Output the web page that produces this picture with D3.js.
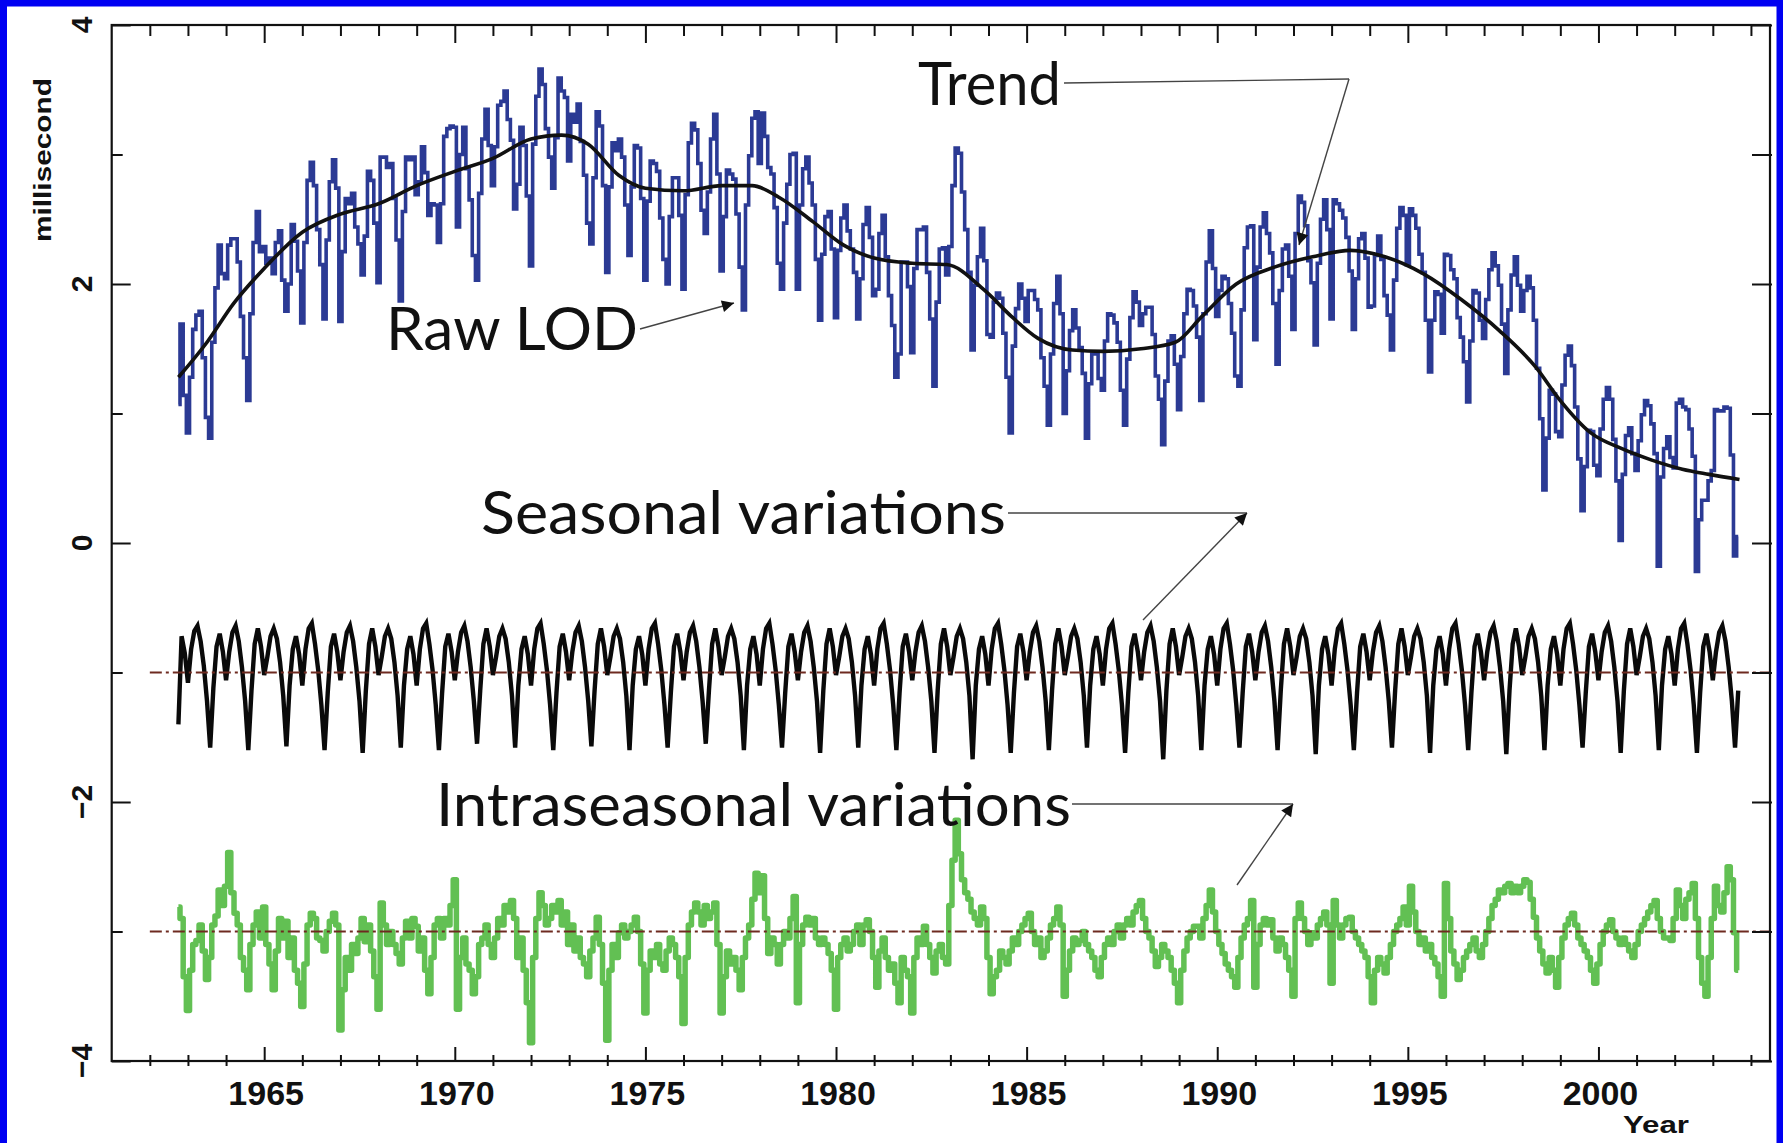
<!DOCTYPE html>
<html>
<head>
<meta charset="utf-8">
<script src="https://cdn.jsdelivr.net/npm/d3@7"></script>
<style>
html,body{margin:0;padding:0;background:#fff;}
svg{display:block;}
</style>
</head>
<body>
<svg id="chart" width="1783" height="1143"></svg>
<script>
// ---------------- DATA (milliseconds), monthly samples starting Oct 1962 ----------------
const startYear = 1962.75;
const stepYears = 1 / 12;

// Raw LOD (blue)
const rawLOD = [
  1.07, 1.69, 1.14, 0.85, 1.28, 1.65, 1.76, 1.79, 1.43, 0.97, 0.81, 1.55,
  1.97, 2.30, 2.08, 2.04, 2.30, 2.35, 2.35, 2.17, 1.75, 1.43, 1.10, 1.77,
  2.32, 2.56, 2.25, 2.29, 2.16, 2.20, 2.08, 2.32, 2.41, 2.03, 1.79, 2.00,
  2.46, 2.33, 2.10, 1.70, 2.32, 2.80, 2.94, 2.76, 2.42, 2.15, 1.73, 2.34,
  2.79, 2.96, 2.74, 1.71, 2.25, 2.66, 2.62, 2.70, 2.44, 2.31, 2.07, 2.37,
  2.87, 2.80, 2.47, 2.01, 2.98, 2.98, 2.90, 2.93, 2.66, 2.34, 1.87, 2.56,
  2.98, 2.96, 2.98, 2.69, 2.79, 3.06, 2.86, 2.53, 2.62, 2.61, 2.32, 2.62,
  3.14, 3.20, 3.22, 3.21, 2.44, 3.00, 3.21, 2.89, 2.65, 2.22, 2.03, 2.70,
  3.12, 3.35, 3.07, 2.76, 3.06, 3.38, 3.41, 3.49, 3.27, 3.11, 2.58, 2.77,
  3.21, 3.07, 2.68, 2.14, 3.08, 3.45, 3.66, 3.54, 3.20, 2.98, 2.74, 3.13,
  3.59, 3.49, 3.44, 2.95, 3.31, 3.25, 3.39, 3.10, 2.84, 2.47, 2.31, 2.82,
  3.33, 3.22, 2.76, 2.09, 2.75, 3.09, 3.03, 3.12, 2.98, 2.61, 2.22, 2.75,
  3.07, 3.05, 2.66, 2.03, 2.64, 2.95, 2.93, 2.87, 2.51, 2.19, 2.00, 2.52,
  2.82, 2.82, 2.53, 1.96, 2.69, 3.09, 3.24, 3.19, 2.93, 2.57, 2.39, 2.71,
  3.12, 3.31, 2.85, 2.10, 2.52, 2.88, 2.85, 2.81, 2.54, 2.13, 1.80, 2.61,
  2.99, 3.28, 3.33, 2.93, 3.32, 3.14, 2.90, 2.85, 2.59, 2.16, 1.96, 2.47,
  2.77, 3.00, 3.01, 1.96, 2.61, 2.89, 2.98, 2.78, 2.61, 2.19, 1.72, 2.23,
  2.52, 2.56, 2.27, 1.74, 2.26, 2.51, 2.61, 2.41, 2.27, 2.09, 1.73, 2.04,
  2.46, 2.59, 2.36, 1.91, 1.96, 2.39, 2.53, 2.21, 1.91, 1.68, 1.28, 1.46,
  2.17, 2.17, 1.98, 1.47, 2.12, 2.42, 2.42, 2.44, 2.09, 1.73, 1.21, 1.86,
  2.27, 2.28, 2.07, 2.29, 2.76, 3.05, 3.01, 2.71, 2.42, 2.09, 1.49, 1.99,
  2.21, 2.43, 2.18, 1.61, 1.59, 1.86, 1.93, 1.89, 1.62, 1.28, 0.85, 1.52,
  1.81, 2.00, 1.89, 1.71, 1.95, 1.95, 1.88, 1.80, 1.43, 1.21, 0.91, 1.46,
  1.85, 2.06, 1.77, 1.00, 1.33, 1.64, 1.80, 1.66, 1.51, 1.31, 0.81, 1.23,
  1.46, 1.46, 1.27, 1.18, 1.56, 1.77, 1.76, 1.70, 1.55, 1.18, 0.91, 1.42,
  1.74, 1.94, 1.86, 1.68, 1.77, 1.82, 1.82, 1.61, 1.29, 1.11, 0.76, 1.25,
  1.56, 1.60, 1.38, 1.03, 1.44, 1.77, 1.96, 1.95, 1.83, 1.59, 1.10, 1.77,
  2.17, 2.41, 2.12, 1.75, 1.95, 2.06, 2.04, 1.85, 1.62, 1.29, 1.21, 1.80,
  2.28, 2.44, 2.45, 1.57, 2.13, 2.44, 2.55, 2.39, 2.24, 1.85, 1.38, 1.95,
  2.27, 2.30, 2.06, 1.65, 2.39, 2.68, 2.63, 2.45, 2.18, 2.01, 1.53, 2.16,
  2.50, 2.65, 2.42, 1.73, 2.65, 2.62, 2.57, 2.51, 2.36, 2.10, 1.65, 2.04,
  2.35, 2.39, 2.20, 1.82, 1.83, 2.22, 2.37, 2.19, 1.91, 1.76, 1.49, 2.03,
  2.43, 2.59, 2.53, 2.15, 2.58, 2.53, 2.43, 2.23, 2.09, 1.72, 1.32, 1.72,
  1.94, 1.92, 1.62, 2.23, 2.22, 2.11, 2.04, 1.74, 1.59, 1.40, 1.09, 1.56,
  1.95, 1.93, 1.72, 1.58, 1.88, 2.11, 2.24, 2.14, 1.99, 1.69, 1.31, 1.80,
  2.07, 2.21, 1.99, 1.79, 1.95, 2.06, 1.97, 1.72, 1.35, 0.96, 0.41, 0.81,
  1.18, 1.15, 0.86, 0.82, 1.22, 1.45, 1.52, 1.37, 1.05, 0.65, 0.25, 0.59,
  0.87, 0.86, 0.60, 0.52, 0.88, 1.11, 1.20, 1.11, 0.80, 0.48, 0.02, 0.53,
  0.83, 0.89, 0.69, 0.56, 0.79, 0.99, 1.10, 1.06, 0.92, 0.69, -0.18, 0.51,
  0.73, 0.82, 0.66, 0.58, 1.08, 1.11, 1.05, 1.03, 0.88, 0.67, -0.22, 0.18,
  0.33, 0.33, 0.48, 0.56, 1.03, 1.02, 1.02, 1.05, 1.04, 0.68, -0.10, 0.05
];

// Seasonal variations (black), plotted around -1
const seasonal = [
  -1.40, -0.72, -0.85, -1.08, -0.82, -0.68, -0.64, -0.76, -0.95, -1.22, -1.58, -1.12,
  -0.80, -0.70, -0.84, -1.06, -0.84, -0.69, -0.64, -0.76, -0.96, -1.22, -1.60, -1.14,
  -0.78, -0.66, -0.80, -1.02, -0.88, -0.72, -0.66, -0.74, -0.92, -1.18, -1.57, -1.10,
  -0.82, -0.72, -0.86, -1.10, -0.82, -0.66, -0.62, -0.78, -0.98, -1.25, -1.60, -1.16,
  -0.80, -0.70, -0.84, -1.06, -0.84, -0.69, -0.64, -0.76, -0.96, -1.22, -1.62, -1.14,
  -0.78, -0.66, -0.80, -1.02, -0.88, -0.72, -0.66, -0.74, -0.92, -1.18, -1.58, -1.10,
  -0.82, -0.72, -0.86, -1.10, -0.82, -0.66, -0.62, -0.78, -0.98, -1.25, -1.60, -1.16,
  -0.80, -0.70, -0.84, -1.06, -0.84, -0.69, -0.64, -0.76, -0.96, -1.22, -1.55, -1.14,
  -0.78, -0.66, -0.80, -1.02, -0.88, -0.72, -0.66, -0.74, -0.92, -1.18, -1.58, -1.10,
  -0.82, -0.72, -0.86, -1.10, -0.82, -0.66, -0.62, -0.78, -0.98, -1.25, -1.60, -1.16,
  -0.80, -0.70, -0.84, -1.06, -0.84, -0.69, -0.64, -0.76, -0.96, -1.22, -1.57, -1.14,
  -0.78, -0.66, -0.80, -1.02, -0.88, -0.72, -0.66, -0.74, -0.92, -1.18, -1.60, -1.10,
  -0.82, -0.72, -0.86, -1.10, -0.82, -0.66, -0.62, -0.78, -0.98, -1.25, -1.58, -1.16,
  -0.80, -0.70, -0.84, -1.06, -0.84, -0.69, -0.64, -0.76, -0.96, -1.22, -1.55, -1.14,
  -0.78, -0.66, -0.80, -1.02, -0.88, -0.72, -0.66, -0.74, -0.92, -1.18, -1.60, -1.10,
  -0.82, -0.72, -0.86, -1.10, -0.82, -0.66, -0.62, -0.78, -0.98, -1.25, -1.58, -1.16,
  -0.80, -0.70, -0.84, -1.06, -0.84, -0.69, -0.64, -0.76, -0.96, -1.22, -1.62, -1.14,
  -0.78, -0.66, -0.80, -1.02, -0.88, -0.72, -0.66, -0.74, -0.92, -1.18, -1.58, -1.10,
  -0.82, -0.72, -0.86, -1.10, -0.82, -0.66, -0.62, -0.78, -0.98, -1.25, -1.60, -1.16,
  -0.80, -0.70, -0.84, -1.06, -0.84, -0.69, -0.64, -0.76, -0.96, -1.22, -1.62, -1.14,
  -0.78, -0.66, -0.80, -1.02, -0.88, -0.72, -0.66, -0.74, -0.92, -1.18, -1.67, -1.10,
  -0.82, -0.72, -0.86, -1.10, -0.82, -0.66, -0.62, -0.78, -0.98, -1.25, -1.62, -1.16,
  -0.80, -0.70, -0.84, -1.06, -0.84, -0.69, -0.64, -0.76, -0.96, -1.22, -1.60, -1.14,
  -0.78, -0.66, -0.80, -1.02, -0.88, -0.72, -0.66, -0.74, -0.92, -1.18, -1.58, -1.10,
  -0.82, -0.72, -0.86, -1.10, -0.82, -0.66, -0.62, -0.78, -0.98, -1.25, -1.62, -1.16,
  -0.80, -0.70, -0.84, -1.06, -0.84, -0.69, -0.64, -0.76, -0.96, -1.22, -1.67, -1.14,
  -0.78, -0.66, -0.80, -1.02, -0.88, -0.72, -0.66, -0.74, -0.92, -1.18, -1.60, -1.10,
  -0.82, -0.72, -0.86, -1.10, -0.82, -0.66, -0.62, -0.78, -0.98, -1.25, -1.58, -1.16,
  -0.80, -0.70, -0.84, -1.06, -0.84, -0.69, -0.64, -0.76, -0.96, -1.22, -1.60, -1.14,
  -0.78, -0.66, -0.80, -1.02, -0.88, -0.72, -0.66, -0.74, -0.92, -1.18, -1.63, -1.10,
  -0.82, -0.72, -0.86, -1.10, -0.82, -0.66, -0.62, -0.78, -0.98, -1.25, -1.60, -1.16,
  -0.80, -0.70, -0.84, -1.06, -0.84, -0.69, -0.64, -0.76, -0.96, -1.22, -1.58, -1.14,
  -0.78, -0.66, -0.80, -1.02, -0.88, -0.72, -0.66, -0.74, -0.92, -1.18, -1.62, -1.10,
  -0.82, -0.72, -0.86, -1.10, -0.82, -0.66, -0.62, -0.78, -0.98, -1.25, -1.60, -1.16,
  -0.80, -0.70, -0.84, -1.06, -0.84, -0.69, -0.64, -0.76, -0.96, -1.22, -1.63, -1.14,
  -0.78, -0.66, -0.80, -1.02, -0.88, -0.72, -0.66, -0.74, -0.92, -1.18, -1.60, -1.10,
  -0.82, -0.72, -0.86, -1.10, -0.82, -0.66, -0.62, -0.78, -0.98, -1.25, -1.58, -1.16,
  -0.80, -0.70, -0.84, -1.06, -0.84, -0.69, -0.64, -0.76, -0.96, -1.22, -1.62, -1.14,
  -0.78, -0.66, -0.80, -1.02, -0.88, -0.72, -0.66, -0.74, -0.92, -1.18, -1.60, -1.10,
  -0.82, -0.72, -0.86, -1.10, -0.82, -0.66, -0.62, -0.78, -0.98, -1.25, -1.62, -1.16,
  -0.80, -0.70, -0.84, -1.06, -0.84, -0.69, -0.64, -0.76, -0.96, -1.22, -1.58, -1.14
];

// Intraseasonal variations (green), plotted around -3
const intraseasonal = [
  -2.81, -2.90, -3.35, -3.61, -3.30, -3.10, -3.07, -2.95, -3.15, -3.37, -3.20, -2.95,
  -2.88, -2.68, -2.80, -2.65, -2.39, -2.70, -2.86, -2.95, -3.20, -3.30, -3.45, -3.10,
  -2.95, -2.85, -3.05, -2.81, -3.10, -3.25, -3.45, -3.15, -2.90, -3.05, -2.92, -3.20,
  -3.05, -3.30, -3.40, -3.58, -3.25, -2.95, -2.86, -2.90, -3.05, -3.07, -3.15, -3.00,
  -2.92, -2.86, -2.95, -3.76, -3.45, -3.20, -3.30, -3.10, -3.17, -3.05, -2.90, -3.08,
  -2.95, -3.15, -3.35, -3.60, -2.78, -2.95, -3.10, -3.00, -3.10, -3.17, -3.25, -3.05,
  -2.92, -3.05, -2.90, -2.96, -3.15, -3.05, -3.30, -3.48, -3.20, -2.95, -2.90, -3.05,
  -2.90, -2.95, -2.80, -2.60, -3.60, -3.20, -3.05, -3.25, -3.30, -3.48, -3.35, -3.10,
  -3.05, -2.95, -3.10, -3.20, -3.05, -2.90, -2.95, -2.80, -2.85, -2.76, -2.90, -3.20,
  -3.05, -3.30, -3.55, -3.86, -3.20, -2.90, -2.70, -2.80, -2.95, -2.90, -2.80, -2.85,
  -2.76, -2.95, -2.85, -3.10, -2.95, -3.15, -3.05, -3.20, -3.25, -3.35, -3.15, -3.05,
  -2.89, -3.10, -3.40, -3.84, -3.30, -3.10, -3.20, -3.01, -2.95, -3.05, -3.00, -2.95,
  -2.89, -3.00, -3.25, -3.63, -3.30, -3.15, -3.20, -3.10, -3.25, -3.30, -3.15, -3.05,
  -3.10, -3.20, -3.35, -3.71, -3.20, -2.95, -2.85, -2.78, -2.85, -2.95, -2.80, -2.90,
  -2.85, -2.78, -3.10, -3.63, -3.35, -3.15, -3.25, -3.20, -3.30, -3.45, -3.20, -3.05,
  -2.95, -2.75, -2.55, -2.70, -2.57, -2.90, -3.17, -3.05, -3.10, -3.25, -3.10, -3.00,
  -3.05, -2.90, -2.73, -3.55, -3.10, -2.95, -2.89, -2.95, -2.90, -3.05, -3.10, -3.05,
  -3.10, -3.17, -3.30, -3.60, -3.20, -3.10, -3.05, -3.15, -3.10, -3.00, -2.95, -3.10,
  -2.95, -2.91, -3.00, -3.20, -3.43, -3.15, -3.05, -3.20, -3.30, -3.25, -3.40, -3.55,
  -3.20, -3.30, -3.35, -3.63, -3.20, -3.05, -3.10, -2.96, -3.10, -3.20, -3.32, -3.15,
  -3.10, -3.20, -3.25, -2.80, -2.45, -2.14, -2.40, -2.60, -2.70, -2.75, -2.85, -2.90,
  -2.95, -2.81, -2.90, -3.20, -3.48, -3.35, -3.30, -3.15, -3.20, -3.25, -3.15, -3.05,
  -3.10, -3.00, -2.95, -2.90, -2.86, -3.00, -3.10, -3.05, -3.20, -3.15, -3.05, -2.95,
  -2.90, -2.81, -2.95, -3.50, -3.30, -3.15, -3.05, -3.10, -3.07, -3.00, -3.10, -3.15,
  -3.20, -3.30, -3.35, -3.20, -3.10, -3.05, -3.10, -3.00, -2.95, -3.05, -2.95, -2.90,
  -2.95, -2.85, -2.80, -2.76, -2.90, -3.00, -3.05, -3.15, -3.27, -3.20, -3.10, -3.15,
  -3.20, -3.30, -3.40, -3.55, -3.30, -3.15, -3.05, -3.00, -2.96, -2.96, -3.05, -2.90,
  -2.80, -2.68, -2.85, -3.00, -3.10, -3.17, -3.25, -3.30, -3.35, -3.43, -3.20, -3.05,
  -2.95, -2.90, -2.76, -3.43, -3.10, -2.95, -2.90, -2.95, -2.91, -3.05, -3.15, -3.05,
  -3.10, -3.20, -3.30, -3.50, -2.90, -2.78, -2.90, -3.00, -3.10, -3.01, -3.05, -2.95,
  -2.90, -2.85, -2.95, -3.40, -2.76, -2.95, -3.05, -2.95, -2.90, -2.89, -3.00, -3.05,
  -3.10, -3.15, -3.20, -3.35, -3.55, -3.30, -3.20, -3.25, -3.32, -3.20, -3.10, -3.00,
  -2.95, -2.90, -2.81, -2.95, -2.65, -2.85, -3.00, -3.10, -3.05, -3.15, -3.10, -3.20,
  -3.25, -3.35, -3.50, -2.63, -2.90, -3.15, -3.25, -3.37, -3.30, -3.20, -3.15, -3.10,
  -3.05, -3.15, -3.20, -3.10, -3.00, -2.90, -2.80, -2.75, -2.68, -2.70, -2.65, -2.63,
  -2.70, -2.65, -2.70, -2.65, -2.60, -2.62, -2.75, -2.89, -3.05, -3.15, -3.25, -3.32,
  -3.20, -3.30, -3.43, -3.20, -3.05, -2.95, -2.90, -2.86, -2.95, -3.05, -3.10, -3.15,
  -3.20, -3.30, -3.40, -3.25, -3.10, -3.00, -2.95, -2.91, -3.00, -3.05, -3.10, -3.05,
  -3.10, -3.15, -3.20, -3.10, -3.00, -2.95, -2.90, -2.85, -2.80, -2.76, -2.90, -3.00,
  -3.05, -3.05, -3.07, -2.90, -2.68, -2.80, -2.90, -2.75, -2.70, -2.63, -2.90, -3.20,
  -3.40, -3.50, -3.20, -2.90, -2.65, -2.80, -2.85, -2.70, -2.50, -2.60, -3.01, -3.30
];

// Smooth trend (black curve over raw LOD)
const trendYears = [1962.75, 1963.5, 1964.2, 1965.0, 1966.0, 1967.0, 1968.0, 1969.0, 1970.0, 1971.0,
  1972.0, 1972.8, 1973.5, 1974.3, 1975.0, 1976.0, 1977.0, 1977.8, 1978.5, 1979.4, 1980.2, 1981.0,
  1982.0, 1982.9, 1983.9, 1984.6, 1985.3, 1986.2, 1987.0, 1988.0, 1988.9, 1989.6, 1990.5, 1991.5,
  1992.5, 1993.5, 1994.4, 1995.4, 1996.4, 1997.4, 1998.35, 1999.0, 1999.8, 2000.6, 2001.4, 2002.2,
  2002.9, 2003.7];
const trendValues = [1.28, 1.55, 1.85, 2.12, 2.40, 2.54, 2.62, 2.76, 2.87, 2.97,
  3.12, 3.15, 3.08, 2.84, 2.74, 2.72, 2.76, 2.76, 2.67, 2.48, 2.30, 2.20,
  2.16, 2.15, 1.95, 1.75, 1.58, 1.49, 1.48, 1.50, 1.55, 1.75, 2.00, 2.13,
  2.21, 2.26, 2.21, 2.08, 1.88, 1.64, 1.36, 1.10, 0.85, 0.73, 0.64, 0.57,
  0.53, 0.49];

// Reference (zero) levels of the two lower series
const baselineLevels = [-1, -3];

// Axis ticks and labels
const xMajorTicks = [1965, 1970, 1975, 1980, 1985, 1990, 1995, 2000];
const xMinorTicks = [1962, 1963, 1964, 1966, 1967, 1968, 1969, 1971, 1972, 1973, 1974, 1976, 1977,
  1978, 1979, 1981, 1982, 1983, 1984, 1986, 1987, 1988, 1989, 1991, 1992, 1993, 1994, 1996, 1997,
  1998, 1999, 2001, 2002, 2003, 2004];
const yMajorTicks = [4, 2, 0, -2, -4];
const yMinorTicks = [3, 1, -1, -3];
const yAxisTitle = "millisecond";
const xAxisTitle = "Year";

// Annotations
const annotations = {
  trend: "Trend",
  raw: "Raw LOD",
  seasonal: "Seasonal variations",
  intra: "Intraseasonal variations"
};

// ---------------- DRAWING ----------------
const W = 1783, H = 1143;
const svg = d3.select("#chart");
const x = d3.scaleLinear().domain([1961, 2004.5]).range([111.7, 1770]);
const y = d3.scaleLinear().domain([-4, 4]).range([1061, 25]);

svg.append("rect").attr("x", 0).attr("y", 0).attr("width", W).attr("height", H).attr("fill", "#fff");

const tOf = i => startYear + i * stepYears;
const seriesLine = d3.line().x((d, i) => x(tOf(i))).y(d => y(d));
const stepLine = d3.line().x((d, i) => x(tOf(i))).y(d => y(d)).curve(d3.curveStep);

// Raw LOD
svg.append("path").datum(rawLOD).attr("d", stepLine)
  .attr("fill", "none").attr("stroke", "#2b3a94").attr("stroke-width", 3.6)
  .attr("stroke-linejoin", "miter");

// Trend
const trendData = trendYears.map((t, i) => [t, trendValues[i]]);
svg.append("path").datum(trendData)
  .attr("d", d3.line().x(d => x(d[0])).y(d => y(d[1])).curve(d3.curveMonotoneX))
  .attr("fill", "none").attr("stroke", "#111").attr("stroke-width", 3.6);

// Seasonal
svg.append("path").datum(seasonal).attr("d", seriesLine)
  .attr("fill", "none").attr("stroke", "#0a0a0a").attr("stroke-width", 4.4);

// Intraseasonal
svg.append("path").datum(intraseasonal).attr("d", stepLine)
  .attr("fill", "none").attr("stroke", "#62c053").attr("stroke-width", 5.5)
  .attr("stroke-linejoin", "round");

// Baselines (dash-dot)
svg.selectAll("line.base").data(baselineLevels).enter().append("line")
  .attr("class", "base")
  .attr("x1", x(1962)).attr("x2", x(2004.5))
  .attr("y1", d => y(d)).attr("y2", d => y(d))
  .attr("stroke", "#6e2a20").attr("stroke-width", 1.8)
  .attr("stroke-dasharray", "12,4,3,4");

// ---------- Axes (frame with inward ticks on all sides) ----------
const axisStyle = g => {
  g.select(".domain").remove();
  g.selectAll(".tick line").attr("stroke", "#111").attr("stroke-width", 2);
  g.selectAll(".tick text").remove();
};
const y0 = y(-4), y1 = y(4), xL = x(1961), xR = x(2004.5);

// bottom
svg.append("g").attr("transform", `translate(0,${y0 + 5})`)
  .call(d3.axisTop(x).tickValues(xMinorTicks).tickSize(11)).call(axisStyle);
svg.append("g").attr("transform", `translate(0,${y0})`)
  .call(d3.axisTop(x).tickValues(xMajorTicks).tickSize(14)).call(axisStyle);
// top
svg.append("g").attr("transform", `translate(0,${y1})`)
  .call(d3.axisBottom(x).tickValues(xMinorTicks).tickSize(11)).call(axisStyle);
svg.append("g").attr("transform", `translate(0,${y1})`)
  .call(d3.axisBottom(x).tickValues(xMajorTicks).tickSize(18)).call(axisStyle);
// left
svg.append("g").attr("transform", `translate(${xL},0)`)
  .call(d3.axisRight(y).tickValues(yMinorTicks).tickSize(11)).call(axisStyle);
svg.append("g").attr("transform", `translate(${xL},0)`)
  .call(d3.axisRight(y).tickValues(yMajorTicks).tickSize(19)).call(axisStyle);
// right
svg.append("g").attr("transform", `translate(${xR + 2},0)`)
  .call(d3.axisLeft(y).tickValues(yMinorTicks).tickSize(20)).call(axisStyle);
svg.append("g").attr("transform", `translate(${xR + 2},0)`)
  .call(d3.axisLeft(y).tickValues(yMajorTicks).tickSize(20)).call(axisStyle);

// frame
svg.append("rect").attr("x", xL).attr("y", y1).attr("width", xR - xL).attr("height", y0 - y1)
  .attr("fill", "none").attr("stroke", "#111").attr("stroke-width", 2.2);

// X labels
svg.selectAll("text.xl").data(xMajorTicks).enter().append("text")
  .attr("class", "xl").attr("x", d => x(d) + 2).attr("y", y0 + 44)
  .attr("text-anchor", "middle")
  .attr("font-family", "Liberation Sans, Arial, sans-serif").attr("font-weight", "bold")
  .attr("font-size", 34).attr("fill", "#111").text(d => d);

// Y labels (rotated)
svg.selectAll("text.yl").data(yMajorTicks).enter().append("text")
  .attr("class", "yl")
  .attr("transform", d => `translate(92,${y(d)}) rotate(-90)`)
  .attr("text-anchor", "middle")
  .attr("font-family", "Liberation Sans, Arial, sans-serif").attr("font-weight", "bold")
  .attr("font-size", 30).attr("fill", "#111")
  .text(d => d < 0 ? "\u2212" + Math.abs(d) : String(d));

// Axis titles
svg.append("text").attr("transform", "translate(51,160) rotate(-90)")
  .attr("text-anchor", "middle")
  .attr("font-family", "Liberation Sans, Arial, sans-serif").attr("font-weight", "bold")
  .attr("font-size", 24).attr("fill", "#111")
  .attr("textLength", 164).attr("lengthAdjust", "spacingAndGlyphs")
  .text(yAxisTitle);
svg.append("text").attr("x", 1623).attr("y", 1133)
  .attr("font-family", "Liberation Sans, Arial, sans-serif").attr("font-weight", "bold")
  .attr("font-size", 24).attr("fill", "#111")
  .attr("textLength", 66).attr("lengthAdjust", "spacingAndGlyphs")
  .text(xAxisTitle);

// ---------- Annotations ----------
const defs = svg.append("defs");
defs.append("marker").attr("id", "arr").attr("viewBox", "0 0 10 10")
  .attr("refX", 10).attr("refY", 5).attr("markerWidth", 16).attr("markerHeight", 12)
  .attr("markerUnits", "userSpaceOnUse").attr("orient", "auto")
  .append("path").attr("d", "M0,0 L10,5 L0,10 Z").attr("fill", "#111");

const annFont = "Lato, 'Open Sans', sans-serif";
function label(txt, xx, yy, len) {
  svg.append("text").attr("x", xx).attr("y", yy)
    .attr("font-family", annFont).attr("font-size", 60).attr("fill", "#111")
    .attr("textLength", len).attr("lengthAdjust", "spacingAndGlyphs").text(txt);
}
label(annotations.trend, 918, 105, 143);
label(annotations.raw, 386, 350, 252);
label(annotations.seasonal, 481, 534, 525);
label(annotations.intra, 436, 826, 635);

const conn = (pts, arrow) => {
  const p = svg.append("path").attr("d", d3.line()(pts))
    .attr("fill", "none").attr("stroke", "#444").attr("stroke-width", 1.4);
  if (arrow) p.attr("marker-end", "url(#arr)");
};
// Trend
conn([[1064, 83], [1349, 79]], false);
conn([[1349, 79], [1299, 245]], true);
// Raw LOD
conn([[640, 329], [734, 303]], true);
// Seasonal
conn([[1008, 513], [1247, 513]], false);
conn([[1143, 620], [1247, 513]], true);
// Intraseasonal
conn([[1072, 804], [1293, 804]], false);
conn([[1237, 885], [1293, 804]], true);

// Blue outer border (left, top, right)
svg.append("path").attr("d", `M3.5,${H} L3.5,3 L${W - 3},3 L${W - 3},${H}`)
  .attr("fill", "none").attr("stroke", "#0000f2").attr("stroke-width", 7);
</script>
</body>
</html>
